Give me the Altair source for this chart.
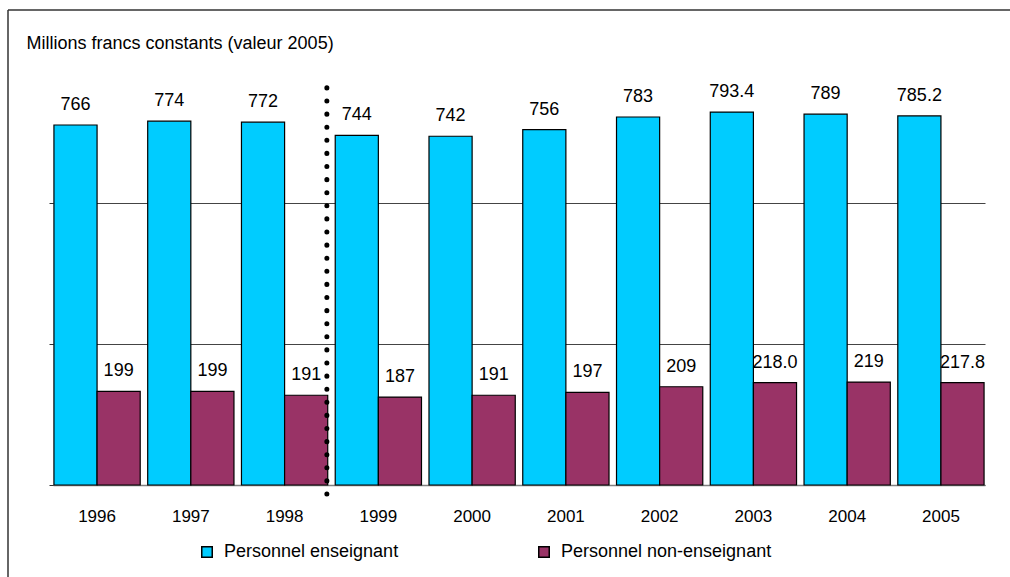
import altair as alt
import pandas as pd

years = ["1996", "1997", "1998", "1999", "2000", "2001", "2002", "2003", "2004", "2005"]
enseignant = [766, 774, 772, 744, 742, 756, 783, 793.4, 789, 785.2]
enseignant_lbl = ["766", "774", "772", "744", "742", "756", "783", "793.4", "789", "785.2"]
non_ens = [199, 199, 191, 187, 191, 197, 209, 218.0, 219, 217.8]
non_ens_lbl = ["199", "199", "191", "187", "191", "197", "209", "218.0", "219", "217.8"]
series = ["Personnel enseignant", "Personnel non-enseignant"]
colors = ["#00CCFF", "#993366"]

rows = []
for i, y in enumerate(years):
    rows.append({"year": y, "serie": series[0], "value": enseignant[i], "label": enseignant_lbl[i]})
    rows.append({"year": y, "serie": series[1], "value": non_ens[i], "label": non_ens_lbl[i]})
df = pd.DataFrame(rows)

FONT = "Liberation Sans"

xscale = alt.Scale(domain=years, paddingInner=0.08, paddingOuter=0.01)
yscale = alt.Scale(domain=[0, 900], nice=False)
cscale = alt.Scale(domain=series, range=colors)
oscale = alt.Scale(paddingInner=0, paddingOuter=0)

base = alt.Chart(df)

bars = base.mark_bar(stroke="black", strokeWidth=1.2).encode(
    x=alt.X("year:N", scale=xscale, sort=years,
            axis=alt.Axis(title=None, labelAngle=0, ticks=False, tickSize=0, grid=False,
                          labelBaseline="alphabetic", labelPadding=36,
                          labelFontSize=17, labelColor="black", labelFont=FONT,
                          domainColor="#808080", domainWidth=1.5)),
    xOffset=alt.XOffset("serie:N", scale=oscale, sort=series),
    y=alt.Y("value:Q", scale=yscale,
            axis=alt.Axis(values=[0, 300, 600], labels=False, domain=False, grid=True,
                          tickSize=4, tickColor="#333", gridColor="#444", gridWidth=1,
                          title="Millions francs constants (valeur 2005)",
                          titleAngle=0, titleX=-27, titleY=-14, titleAlign="left",
                          titleBaseline="alphabetic", titleFontSize=18,
                          titleFontWeight="normal", titleFont=FONT, titleColor="black")),
    color=alt.Color("serie:N", scale=cscale, sort=series,
                    legend=alt.Legend(title=None, orient="none", legendX=145, legendY=481,
                                      direction="horizontal", columns=2, columnPadding=136,
                                      symbolType="square", symbolSize=110,
                                      symbolStrokeColor="black", symbolStrokeWidth=1.5,
                                      symbolOpacity=1, labelLimit=400,
                                      labelFontSize=18, labelFont=FONT, labelColor="black",
                                      labelOffset=8)),
)

labels = base.mark_text(baseline="alphabetic", dy=-15, fontSize=18, font=FONT,
                        color="black").encode(
    x=alt.X("year:N", scale=xscale, sort=years),
    xOffset=alt.XOffset("serie:N", scale=oscale, sort=series),
    y=alt.Y("value:Q", scale=yscale),
    text="label:N",
)

sep_df = pd.DataFrame({"year": ["1998"], "top": [845], "bottom": [-35]})
sep = alt.Chart(sep_df).mark_rule(color="black", strokeWidth=5, strokeCap="round",
                                  strokeDash=[0.1, 13]).encode(
    x=alt.X("year:N", scale=xscale, sort=years, bandPosition=0.99),
    y=alt.Y("top:Q", scale=yscale),
    y2="bottom:Q",
)

frame_top = alt.Chart(sep_df).mark_rule(color="#333", strokeWidth=1.5).encode(
    x=alt.value(-45), x2=alt.value(970), y=alt.value(-52))
frame_left = alt.Chart(sep_df).mark_rule(color="#333", strokeWidth=1.5).encode(
    x=alt.value(-45), y=alt.value(-52), y2=alt.value(520))

chart = alt.layer(bars, labels, sep, frame_top, frame_left).properties(
    width=932, height=423,
    autosize=alt.AutoSizeParams(type="none"),
    padding={"left": 53, "top": 62, "right": 25, "bottom": 92},
    background="white",
).configure_view(stroke=None)

chart.save("out.html", embed_options={"renderer": "svg", "actions": False})
